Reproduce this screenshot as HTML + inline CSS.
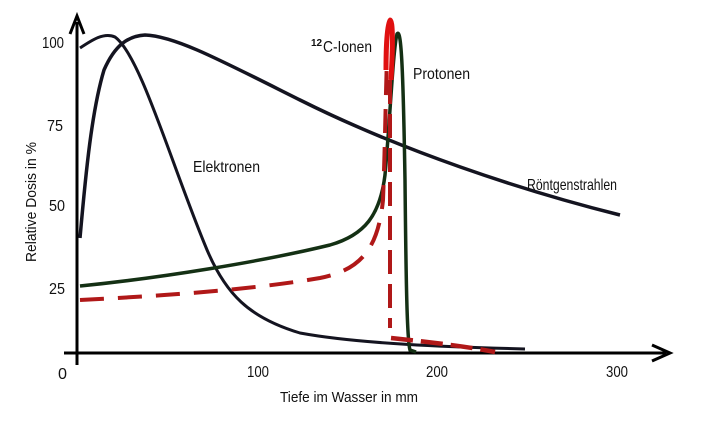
<!DOCTYPE html>
<html><head><meta charset="utf-8"><style>
html,body{margin:0;padding:0;background:#fff;}
svg{display:block;}
text{font-family:"Liberation Sans","DejaVu Sans",sans-serif;fill:#111;font-size:16px;}
</style></head><body>
<svg width="707" height="422" viewBox="0 0 707 422" xmlns="http://www.w3.org/2000/svg">
<line x1="77" y1="365" x2="77" y2="22" stroke="#000" stroke-width="3"/>
<path d="M70,34 L77,16 L84,34" fill="none" stroke="#000" stroke-width="3"/>
<line x1="64" y1="353" x2="666" y2="353" stroke="#000" stroke-width="3"/>
<path d="M652,345 L670,353 L652,361" fill="none" stroke="#000" stroke-width="3"/>
<path d="M80,238 C86,170 92,110 104,70 C115,45 128,36 145,35 C175,36 220,60 300,100 C400,150 520,190 620,215" fill="none" stroke="#141420" stroke-width="3.5"/>
<path d="M80,48 C92,40 104,32 115,37 C140,55 170,160 205,245 C225,295 250,318 300,333 C360,344 450,347 525,349" fill="none" stroke="#141420" stroke-width="3"/>
<path d="M80,286 C160,278 260,262 330,245 C365,235 380,215 385,175 C390,120 393,50 397,34 C401,28 403,60 405,180 C406,280 407,340 410,350 L416,352" fill="none" stroke="#143014" stroke-width="3.5"/>
<path d="M80,300 C160,296 250,290 320,278 C360,270 378,250 383,200 C385,150 386,80 387,60" fill="none" stroke="#b01818" stroke-width="4" stroke-dasharray="24,14"/>
<path d="M386,70 C386,40 388,20 390,20 C393,20 393,45 391,80" fill="none" stroke="#e01010" stroke-width="5"/>
<line x1="390" y1="80" x2="390" y2="328" stroke="#b01818" stroke-width="4" stroke-dasharray="24,10"/>
<path d="M391,338 C430,342 470,347 495,352" fill="none" stroke="#b01818" stroke-width="4.5" stroke-dasharray="22,8"/>
<text x="42" y="48" textLength="22" lengthAdjust="spacingAndGlyphs">100</text>
<text x="47" y="131" textLength="16" lengthAdjust="spacingAndGlyphs">75</text>
<text x="49" y="211" textLength="16" lengthAdjust="spacingAndGlyphs">50</text>
<text x="49" y="294" textLength="16" lengthAdjust="spacingAndGlyphs">25</text>
<text x="58" y="379" textLength="9" lengthAdjust="spacingAndGlyphs">0</text>
<text x="247" y="377" textLength="22" lengthAdjust="spacingAndGlyphs">100</text>
<text x="426" y="377" textLength="22" lengthAdjust="spacingAndGlyphs">200</text>
<text x="606" y="377" textLength="22" lengthAdjust="spacingAndGlyphs">300</text>
<text x="280" y="402" style="font-size:15px" textLength="138" lengthAdjust="spacingAndGlyphs">Tiefe im Wasser in mm</text>
<text transform="translate(36,262) rotate(-90)" style="font-size:15px" textLength="120" lengthAdjust="spacingAndGlyphs">Relative Dosis in %</text>
<text x="193" y="172" textLength="67" lengthAdjust="spacingAndGlyphs">Elektronen</text>
<text x="527" y="190" textLength="90" lengthAdjust="spacingAndGlyphs">Röntgenstrahlen</text>
<text x="413" y="79" textLength="57" lengthAdjust="spacingAndGlyphs">Protonen</text>
<text x="311" y="46" style="font-size:10px;font-weight:bold">12</text>
<text x="323" y="52" textLength="49" lengthAdjust="spacingAndGlyphs">C-Ionen</text>
</svg>
</body></html>
